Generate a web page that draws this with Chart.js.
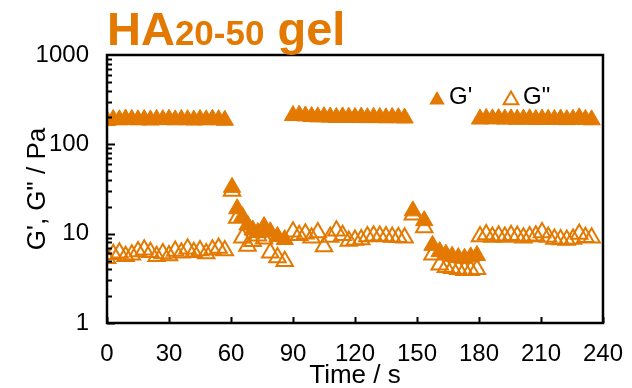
<!DOCTYPE html>
<html>
<head>
<meta charset="utf-8">
<script src="https://cdn.jsdelivr.net/npm/chart.js@4/dist/chart.umd.min.js"></script>
<style>
  html, body { margin: 0; padding: 0; background: #fff; }
  #wrap { position: relative; width: 632px; height: 388px; }
  #title {
    position: absolute; left: 107px; top: 5px; margin: 0;
    font-family: "Liberation Sans", Arial, sans-serif; font-weight: bold;
    font-size: 47px; line-height: 47px; color: #e37900; white-space: nowrap;
  }
  #title .sub { font-size: 35px; }
</style>
</head>
<body>
<div id="wrap">
  <canvas id="chart" width="632" height="388"></canvas>
  <div id="title">HA<span class="sub">20-50</span> gel</div>
</div>
<script>
// time / s
const time = [
  0, 3, 6, 9, 12, 15, 18, 21, 24, 27, 30, 33, 36, 39, 42, 45, 48, 51, 54, 57,
  60.5, 63, 65.5, 68, 70.5, 73, 76, 79, 82.5, 86,
  90, 93, 96, 99, 102, 105, 108, 111, 114, 117, 120, 123, 126, 129, 132, 135, 138, 141, 144,
  148, 153.5, 157.5, 161, 164, 167, 170, 173, 176, 179,
  180.5, 183.5, 186.5, 189.5, 192.5, 195.5, 198.5, 201.5, 204.5, 207.5, 210.5, 213.5, 216.5, 219.5, 222.5, 225.5, 228.5, 231.5, 234.5
];
// storage modulus G' / Pa
const gPrime = [
  185, 190, 188, 192, 190, 188, 190, 187, 190, 189, 191, 188, 190, 189, 187, 190, 188, 191, 189, 186,
  33, 19, 15.5, 12.5, 11, 10.3, 12, 10.5, 9.3, 8.6,
  210, 212, 208, 205, 203, 204, 202, 200, 203, 201, 200, 202, 199, 201, 200, 198, 200, 199, 197,
  18, 14, 7.4, 6.3, 5.9, 5.6, 5.4, 5.3, 5.5, 5.7,
  192, 195, 193, 194, 192, 193, 191, 192, 193, 190, 192, 191, 190, 192, 189, 191, 198, 190, 188
];
// loss modulus G'' / Pa
const gDouble = [
  5.3, 5.9, 6.1, 5.6, 5.8, 6.3, 6.6, 6.2, 5.6, 6.0, 5.7, 6.4, 6.1, 6.8, 6.2, 6.5, 6.0, 6.6, 6.9, 6.5,
  30, 15, 9.0, 7.3, 8.2, 9.5, 8.8, 6.1, 5.4, 4.9,
  10.5, 9.6, 10.0, 9.0, 10.3, 7.2, 9.2, 10.8, 9.6, 8.3, 8.5, 8.6, 9.3, 9.5, 9.4, 9.3, 9.2, 9.1, 9.0,
  16.3, 11.7, 5.8, 4.5, 4.2, 4.1, 4.0, 3.9, 3.9, 4.0,
  9.3, 9.8, 9.2, 9.5, 9.2, 9.6, 9.4, 9.0, 9.3, 9.5, 10.3, 9.2, 8.7, 8.6, 8.5, 8.7, 9.9, 9.1, 9.0
];
const xTicks = [0, 30, 60, 90, 120, 150, 180, 210, 240];
const yTicks = [1, 10, 100, 1000];
const seriesNames = ["G'", 'G"'];

const orange = "#e37900";
const font = "Liberation Sans, Arial, sans-serif";

function triangle(ctx, x, y, r) {
  ctx.beginPath();
  ctx.moveTo(x, y - r);
  ctx.lineTo(x + Math.sin(2 * Math.PI / 3) * r, y + r / 2);
  ctx.lineTo(x - Math.sin(2 * Math.PI / 3) * r, y + r / 2);
  ctx.closePath();
}

// frame, inward ticks, axis titles and legend
const decorations = {
  id: "decorations",
  afterDraw(chart) {
    const { ctx, chartArea: a, scales } = chart;
    const xs = scales.x, ys = scales.y;
    ctx.save();
    ctx.strokeStyle = "#000";
    ctx.lineWidth = 2.5;
    ctx.strokeRect(a.left, a.top, a.right - a.left, a.bottom - a.top);

    ctx.lineWidth = 2;
    ctx.beginPath();
    for (let d = 1; d < 1000; d *= 10) {
      for (let m = 1; m <= 9; m++) {
        const py = Math.round(ys.getPixelForValue(d * m)) + 0.5;
        ctx.moveTo(a.left, py);
        ctx.lineTo(a.left + (m === 1 ? 8 : 5), py);
      }
    }
    xTicks.forEach(v => {
      const px = Math.round(xs.getPixelForValue(v)) + 0.5;
      ctx.moveTo(px, a.bottom);
      ctx.lineTo(px, a.bottom - 6);
    });
    ctx.stroke();

    ctx.fillStyle = "#000";
    ctx.font = "26px " + font;
    ctx.textAlign = "center";
    ctx.textBaseline = "middle";
    ctx.fillText("Time / s", (a.left + a.right) / 2, 376);
    ctx.save();
    ctx.translate(38, (a.top + a.bottom) / 2);
    ctx.rotate(-Math.PI / 2);
    ctx.fillText("G', G\" / Pa", 0, 0);
    ctx.restore();

    // legend
    ctx.textAlign = "left";
    ctx.font = "24px " + font;
    ctx.fillStyle = orange;
    triangle(ctx, 437, 100, 9);
    ctx.fill();
    ctx.strokeStyle = orange;
    ctx.lineWidth = 2;
    triangle(ctx, 511, 100, 8.5);
    ctx.stroke();
    ctx.fillStyle = "#000";
    ctx.fillText(seriesNames[0], 449, 97);
    ctx.fillText(seriesNames[1], 523, 97);
    ctx.restore();
  }
};

new Chart(document.getElementById("chart"), {
  type: "scatter",
  data: {
    datasets: [
      {
        label: seriesNames[0],
        data: time.map((t, i) => ({ x: t, y: gPrime[i] })),
        pointStyle: "triangle",
        pointRadius: 10,
        backgroundColor: orange,
        borderColor: orange,
        borderWidth: 1
      },
      {
        label: seriesNames[1],
        data: time.map((t, i) => ({ x: t, y: gDouble[i] })),
        pointStyle: "triangle",
        pointRadius: 9.5,
        backgroundColor: "rgba(0,0,0,0)",
        borderColor: orange,
        borderWidth: 2
      }
    ]
  },
  options: {
    responsive: false,
    animation: false,
    layout: { autoPadding: false, padding: { top: 55, right: 19, left: 0, bottom: 0 } },
    plugins: {
      legend: { display: false },
      tooltip: { enabled: false }
    },
    scales: {
      x: {
        type: "linear",
        min: 0,
        max: 240,
        afterBuildTicks: s => { s.ticks = xTicks.map(v => ({ value: v })); },
        afterFit: s => { s.height = 65; },
        grid: { display: false },
        border: { display: false },
        ticks: { color: "#000", padding: 9, maxRotation: 0, font: { family: font, size: 24 } }
      },
      y: {
        type: "logarithmic",
        min: 1,
        max: 1000,
        afterBuildTicks: s => { s.ticks = yTicks.map(v => ({ value: v })); },
        afterFit: s => { s.width = 107; },
        grid: { display: false },
        border: { display: false },
        ticks: { color: "#000", padding: 10, font: { family: font, size: 24 }, callback: v => String(v) }
      }
    }
  },
  plugins: [decorations]
});
</script>
</body>
</html>
